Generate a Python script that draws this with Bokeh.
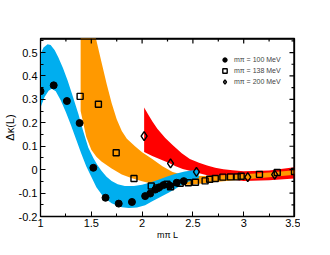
import numpy as np
from bokeh.plotting import figure
from bokeh.models import Range1d, FixedTicker, Legend, LegendItem
from bokeh.embed import file_html
from bokeh.resources import INLINE

# ---- data points ----
m100_x = [1.0, 1.13, 1.26, 1.385, 1.52, 1.64, 1.77, 1.90, 2.03, 2.08, 2.13, 2.17, 2.21, 2.27, 2.34, 2.41]
m100_y = [0.335, 0.36, 0.293, 0.199, 0.008, -0.12, -0.145, -0.138, -0.113, -0.102, -0.085, -0.075, -0.066, -0.068, -0.056, -0.049]

m138_x = [1.39, 1.57, 1.745, 1.92, 2.09, 2.145, 2.245, 2.28, 2.375, 2.455, 2.525, 2.62, 2.665, 2.72, 2.795, 2.87, 2.935, 2.975, 3.155, 3.33, 3.5]
m138_y = [0.313, 0.279, 0.072, -0.038, -0.07, -0.078, -0.062, -0.073, -0.058, -0.056, -0.054, -0.048, -0.041, -0.038, -0.032, -0.031, -0.031, -0.028, -0.02, -0.012, -0.008]

m200_x = [2.02, 2.28, 2.535, 3.04, 3.305]
m200_y = [0.143, 0.027, -0.009, -0.032, -0.021]

# ---- bands (upper and lower edges) ----
blue_up_x = [1.0, 1.03, 1.07, 1.10, 1.14, 1.175, 1.22, 1.267, 1.32, 1.373, 1.42, 1.47, 1.52, 1.56, 1.60, 1.65, 1.70, 1.76, 1.83, 1.92, 2.0, 2.08, 2.16, 2.24, 2.33, 2.42, 2.50, 2.55]
blue_up_y = [0.495, 0.522, 0.535, 0.532, 0.51, 0.48, 0.435, 0.381, 0.31, 0.238, 0.165, 0.095, 0.05, 0.02, -0.005, -0.03, -0.048, -0.062, -0.07, -0.07, -0.064, -0.055, -0.043, -0.03, -0.018, -0.008, -0.002, 0.0]
blue_lo_x = [1.0, 1.04, 1.08, 1.11, 1.15, 1.20, 1.25, 1.30, 1.35, 1.40, 1.45, 1.50, 1.55, 1.60, 1.65, 1.70, 1.75, 1.80, 1.87, 1.95, 2.03, 2.10, 2.18, 2.26, 2.33, 2.40, 2.48, 2.56]
blue_lo_y = [0.265, 0.31, 0.337, 0.345, 0.335, 0.295, 0.245, 0.19, 0.13, 0.07, 0.015, -0.03, -0.075, -0.105, -0.127, -0.143, -0.153, -0.16, -0.164, -0.162, -0.152, -0.135, -0.117, -0.099, -0.082, -0.062, -0.047, -0.035]

orange_up_x = [1.395, 1.45, 1.50, 1.543, 1.60, 1.652, 1.70, 1.75, 1.80, 1.85, 1.93, 2.0, 2.1, 2.2, 2.3, 2.4, 2.5, 2.6, 2.8, 3.0, 3.25, 3.5]
orange_up_y = [1.2, 0.85, 0.68, 0.565, 0.46, 0.365, 0.285, 0.215, 0.165, 0.132, 0.10, 0.074, 0.045, 0.015, -0.01, -0.022, -0.026, -0.027, -0.024, -0.02, -0.012, -0.002]
orange_lo_x = [1.395, 1.45, 1.5, 1.55, 1.6, 1.7, 1.8, 1.9, 2.0, 2.1, 2.2, 2.3, 2.4, 2.5, 2.6, 2.8, 3.0, 3.25, 3.5]
orange_lo_y = [0.25, 0.14, 0.085, 0.055, 0.035, 0.005, -0.021, -0.037, -0.049, -0.06, -0.066, -0.068, -0.066, -0.063, -0.058, -0.05, -0.042, -0.032, -0.022]

red_up_x = [2.02, 2.06, 2.1, 2.15, 2.228, 2.3, 2.39, 2.47, 2.56, 2.64, 2.72, 2.8, 2.89, 3.0, 3.25, 3.5]
red_up_y = [0.265, 0.235, 0.207, 0.175, 0.135, 0.105, 0.07, 0.045, 0.029, 0.018, 0.008, 0.002, -0.003, -0.007, -0.004, 0.01]
red_lo_x = [2.02, 2.1, 2.2, 2.26, 2.33, 2.4, 2.5, 2.6, 2.7, 2.8, 3.0, 3.25, 3.5]
red_lo_y = [0.075, 0.058, 0.04, 0.029, 0.015, 0.003, -0.008, -0.02, -0.03, -0.038, -0.048, -0.045, -0.038]

# ---- ticks and texts ----
x_ticks = [1.0, 1.5, 2.0, 2.5, 3.0, 3.5]
x_tick_labels = ["1", "1.5", "2", "2.5", "3", "3.5"]
y_ticks = [-0.2, -0.1, 0.0, 0.1, 0.2, 0.3, 0.4, 0.5]
y_tick_labels = ["-0.2", "-0.1", "0", "0.1", "0.2", "0.3", "0.4", "0.5"]
legend_labels = ["m\u03c0 = 100 MeV", "m\u03c0 = 138 MeV", "m\u03c0 = 200 MeV"]
x_title = "m\u03c0 L"
y_title = "\u0394\u03ba(L)"

BLUE = "#00AEEF"
ORANGE = "#FF9900"
RED = "#FF0000"
FONT = "Liberation Sans"

X0, X1 = 1.0, 3.5
Y0, Y1 = -0.2, 0.56
FW, FH = 254, 178
px_x = (X1 - X0) / FW   # data units per screen pixel
px_y = (Y1 - Y0) / FH

p = figure(frame_width=FW, frame_height=FH,
           x_range=Range1d(X0, X1), y_range=Range1d(Y0, Y1),
           output_backend="svg", toolbar_location=None,
           min_border_left=38, min_border_right=6, min_border_top=38, min_border_bottom=0)
p.xgrid.grid_line_color = None
p.ygrid.grid_line_color = None
p.outline_line_color = "black"
p.outline_line_width = 1.3


def band(ux, uy, lx, ly, color):
    p.patch(list(ux) + list(lx)[::-1], list(uy) + list(ly)[::-1],
            fill_color=color, line_color=None)


band(red_up_x, red_up_y, red_lo_x, red_lo_y, RED)
band(orange_up_x, orange_up_y, orange_lo_x, orange_lo_y, ORANGE)
band(blue_up_x, blue_up_y, blue_lo_x, blue_lo_y, BLUE)

r100 = p.scatter(m100_x, m100_y, marker="circle", size=7, fill_color="black", line_color="black")
r138 = p.scatter(m138_x, m138_y, marker="square", size=6, fill_alpha=0, line_color="black", line_width=1.4)
r200 = p.scatter(m200_x, m200_y, marker="diamond", size=9, fill_alpha=0, line_color="black", line_width=1.4)

x_minor = [float(v) for v in np.round(np.arange(X0, X1 + 1e-6, 0.25), 3)]
y_minor = [float(v) for v in np.round(np.arange(Y0, 0.5501, 0.05), 3)]


def style_axis(ax, ticks, minor, labels, standoff):
    ax.ticker = FixedTicker(ticks=ticks, minor_ticks=minor)
    ax.major_tick_in = 5
    ax.major_tick_out = 0
    ax.minor_tick_in = 3
    ax.minor_tick_out = 0
    ax.axis_line_color = "black"
    ax.major_tick_line_color = "black"
    ax.minor_tick_line_color = "black"
    ax.major_label_overrides = dict(zip(ticks, labels))
    ax.major_label_text_font = FONT
    ax.major_label_text_font_size = "11px"
    ax.major_label_text_color = "black"
    ax.major_label_standoff = standoff
    ax.axis_label_text_font = FONT
    ax.axis_label_text_font_style = "normal"
    ax.axis_label_text_color = "black"


style_axis(p.xaxis[0], x_ticks, x_minor, x_tick_labels, 2)
style_axis(p.yaxis[0], y_ticks, y_minor, y_tick_labels, 3)
p.yaxis[0].axis_label = y_title
p.yaxis[0].axis_label_text_font_size = "11px"
p.yaxis[0].axis_label_standoff = 0
p.xaxis[0].axis_label = x_title
p.xaxis[0].axis_label_text_font_size = "9px"
p.xaxis[0].axis_label_standoff = 0

# ---- mirrored frame edges and inward ticks on top and right ----
LW = 1.2
edge_top = Y1 - 0.6 * px_y
edge_right = X1 - 0.6 * px_x
p.segment(x0=[X0, edge_right], y0=[edge_top, Y0], x1=[X1, edge_right], y1=[edge_top, Y1],
          line_color="black", line_width=LW)
x_minor_only = [t for t in x_minor if t not in x_ticks]
y_minor_only = [t for t in y_minor if not any(abs(t - m) < 1e-9 for m in y_ticks)]
p.segment(x0=x_ticks, y0=[Y1] * len(x_ticks), x1=x_ticks, y1=[Y1 - 5 * px_y] * len(x_ticks),
          line_color="black", line_width=LW)
p.segment(x0=x_minor_only, y0=[Y1] * len(x_minor_only), x1=x_minor_only,
          y1=[Y1 - 3 * px_y] * len(x_minor_only), line_color="black", line_width=LW)
p.segment(x0=[X1] * len(y_ticks), y0=y_ticks, x1=[X1 - 5 * px_x] * len(y_ticks), y1=y_ticks,
          line_color="black", line_width=LW)
p.segment(x0=[X1] * len(y_minor_only), y0=y_minor_only, x1=[X1 - 3 * px_x] * len(y_minor_only),
          y1=y_minor_only, line_color="black", line_width=LW)

legend = Legend(items=[LegendItem(label=legend_labels[0], renderers=[r100]),
                       LegendItem(label=legend_labels[1], renderers=[r138]),
                       LegendItem(label=legend_labels[2], renderers=[r200])],
                location=(179, 129), glyph_width=11, glyph_height=11, label_height=11,
                spacing=0, padding=2, label_standoff=4,
                label_text_font=FONT, label_text_font_size="7px",
                border_line_color=None, background_fill_alpha=0)
p.add_layout(legend)

open("out.html", "w").write(file_html(p, INLINE))
